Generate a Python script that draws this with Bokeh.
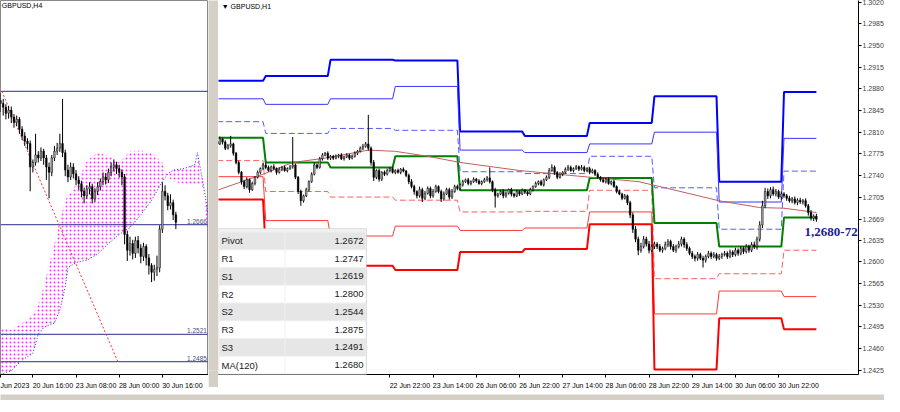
from bokeh.plotting import figure
from bokeh.models import ColumnDataSource, FixedTicker, Label, BoxAnnotation, Range1d
from bokeh.layouts import row, column
from bokeh.embed import file_html
from bokeh.resources import INLINE

# ---------------- data: left panel, GBPUSD H4 (bar index 0 = 20 Jun 16:00) ----------------
h4_first_bar = -12
h4_open0 = 1.2830
h4_close = [1.2826, 1.2821, 1.2813, 1.2817, 1.2808, 1.2801, 1.2805, 1.2792, 1.2783, 1.2776, 1.2773, 1.2742,
            1.2748, 1.2758, 1.2754, 1.2763, 1.2754, 1.2742, 1.2735, 1.2754, 1.2763, 1.2767, 1.2773, 1.2761,
            1.2738, 1.2729, 1.2742, 1.2733, 1.2725, 1.2720, 1.2710, 1.2704, 1.2713, 1.2716, 1.2700, 1.2710,
            1.2716, 1.2723, 1.2729, 1.2725, 1.2735, 1.2742, 1.2745, 1.2740, 1.2735, 1.2729, 1.2653, 1.2632,
            1.2641, 1.2628, 1.2645, 1.2635, 1.2624, 1.2637, 1.2622, 1.2612, 1.2603, 1.2607, 1.2609, 1.2660,
            1.2710, 1.2704, 1.2691, 1.2695, 1.2679, 1.2669]
h4_high = [1.2840, 1.2832, 1.2825, 1.2823, 1.2822, 1.2812, 1.2810, 1.2808, 1.2796, 1.2788, 1.2780, 1.2777,
           1.2752, 1.2786, 1.2763, 1.2768, 1.2766, 1.2758, 1.2748, 1.2758, 1.2770, 1.2774, 1.2786, 1.2832,
           1.2765, 1.2745, 1.2748, 1.2747, 1.2738, 1.2730, 1.2724, 1.2715, 1.2718, 1.2722, 1.2720, 1.2714,
           1.2722, 1.2727, 1.2735, 1.2734, 1.2740, 1.2748, 1.2752, 1.2749, 1.2745, 1.2739, 1.2733, 1.2658,
           1.2650, 1.2646, 1.2650, 1.2651, 1.2640, 1.2642, 1.2640, 1.2627, 1.2615, 1.2613, 1.2625, 1.2665,
           1.2722, 1.2718, 1.2708, 1.2706, 1.2699, 1.2683]
h4_low = [1.2815, 1.2810, 1.2805, 1.2806, 1.2800, 1.2794, 1.2796, 1.2786, 1.2778, 1.2770, 1.2765, 1.2710,
          1.2735, 1.2744, 1.2748, 1.2750, 1.2745, 1.2725, 1.2701, 1.2730, 1.2750, 1.2758, 1.2762, 1.2755,
          1.2730, 1.2722, 1.2725, 1.2727, 1.2718, 1.2712, 1.2702, 1.2694, 1.2700, 1.2706, 1.2694, 1.2696,
          1.2705, 1.2711, 1.2718, 1.2719, 1.2721, 1.2730, 1.2736, 1.2733, 1.2728, 1.2718, 1.2640, 1.2618,
          1.2625, 1.2620, 1.2622, 1.2628, 1.2615, 1.2618, 1.2612, 1.2600, 1.2590, 1.2592, 1.2598, 1.2603,
          1.2655, 1.2698, 1.2685, 1.2686, 1.2672, 1.2660]
kumo_bar = [-12, -8, -4, 0, 2, 4, 8, 10, 12, 13, 16, 20, 24, 28, 32, 36, 40, 44, 48, 50, 52, 56, 60, 61, 63, 65]
kumo_span_a = [1.2530, 1.2527, 1.2536, 1.2546, 1.2561, 1.2584, 1.2641, 1.2672, 1.2698, 1.2704, 1.2719, 1.2750,
               1.2761, 1.2757, 1.2748, 1.2763, 1.2764, 1.2761, 1.2748, 1.2729, 1.2723, 1.2720, 1.2719, 1.2719,
               1.2716, 1.2647]
kumo_span_b = [1.2468, 1.2473, 1.2487, 1.2496, 1.2521, 1.2530, 1.2536, 1.2553, 1.2584, 1.2609, 1.2616, 1.2619,
               1.2627, 1.2641, 1.2653, 1.2662, 1.2679, 1.2698, 1.2723, 1.2733, 1.2738, 1.2740, 1.2745, 1.2761,
               1.2723, 1.2679]
h4_levels = [1.2842, 1.2666, 1.2521, 1.2485]
h4_level_labels = ["", "1.2666", "1.2521", "1.2485"]
trend_bar = [-11.5, 31.5]
trend_price = [1.2842, 1.2485]
h4_ticks = [-12, 0, 16, 32, 48]
h4_tick_labels = ["Jun 2023", "20 Jun 16:00", "23 Jun 08:00", "28 Jun 00:00", "30 Jun 16:00"]

# ---------------- data: right panel, GBPUSD H1 (bar index 0 = 21 Jun 00:00) ----------------
h1_first_bar = -18
h1_open0 = 1.2795
h1_close = [
    1.2791, 1.2799, 1.2794, 1.2784, 1.2788, 1.2791, 1.2776, 1.2761, 1.2745, 1.2730, 1.2722, 1.2733, 1.2717,
    1.2727, 1.2737, 1.2745, 1.2751, 1.2757, 1.2753,
    1.2748, 1.2754, 1.2751, 1.2745, 1.2750, 1.2753, 1.2748, 1.2751, 1.2754, 1.2757, 1.2737, 1.2714,
    1.2699, 1.2707, 1.2717, 1.2730, 1.2742, 1.2757, 1.2753, 1.2767, 1.2773, 1.2776, 1.2768, 1.2771,
    1.2768, 1.2771, 1.2773, 1.2767, 1.2770, 1.2773, 1.2768, 1.2771, 1.2776, 1.2779, 1.2784, 1.2787,
    1.2791, 1.2784, 1.2761, 1.2737, 1.2748, 1.2734, 1.2745, 1.2742, 1.2748, 1.2751, 1.2745, 1.2748,
    1.2745, 1.2750, 1.2747, 1.2740, 1.2730, 1.2722, 1.2714, 1.2707, 1.2717, 1.2703, 1.2711, 1.2719,
    1.2707, 1.2714, 1.2722, 1.2714, 1.2702, 1.2710, 1.2717, 1.2705, 1.2714, 1.2722, 1.2719, 1.2725,
    1.2730, 1.2733, 1.2727, 1.2730, 1.2734, 1.2731, 1.2727, 1.2730, 1.2733, 1.2736, 1.2730, 1.2717,
    1.2707, 1.2710, 1.2714, 1.2707, 1.2711, 1.2717, 1.2710, 1.2707, 1.2714, 1.2710, 1.2716, 1.2713,
    1.2710, 1.2717, 1.2722, 1.2727, 1.2730, 1.2725, 1.2733, 1.2737, 1.2748, 1.2753, 1.2745, 1.2737,
    1.2742, 1.2745, 1.2750, 1.2753, 1.2748, 1.2751, 1.2754, 1.2750, 1.2753, 1.2748, 1.2751, 1.2745,
    1.2748, 1.2742, 1.2737, 1.2733, 1.2730, 1.2734, 1.2727, 1.2730, 1.2722, 1.2714, 1.2710, 1.2703,
    1.2707, 1.2696, 1.2676, 1.2653, 1.2637, 1.2619, 1.2625, 1.2637, 1.2629, 1.2619, 1.2625, 1.2629,
    1.2625, 1.2619, 1.2622, 1.2628, 1.2633, 1.2625, 1.2619, 1.2625, 1.2629, 1.2637, 1.2628, 1.2622,
    1.2614, 1.2609, 1.2606, 1.2612, 1.2606, 1.2603, 1.2609, 1.2614, 1.2609, 1.2612, 1.2606, 1.2609,
    1.2612, 1.2614, 1.2609, 1.2616, 1.2612, 1.2619, 1.2614, 1.2622, 1.2617, 1.2625, 1.2619, 1.2628,
    1.2625, 1.2637, 1.2660, 1.2691, 1.2714, 1.2707, 1.2717, 1.2710, 1.2714, 1.2705, 1.2710, 1.2707,
    1.2703, 1.2699, 1.2702, 1.2696, 1.2700, 1.2697, 1.2699, 1.2691, 1.2680, 1.2671, 1.2674, 1.2669]
h1_wick_up_pips = [
    3, 4, 2, 3, 3, 13, 2, 2, 3, 2, 3, 4, 2, 3, 2, 3, 2, 3, 4,
    3, 2, 4, 2, 3, 2, 3, 2, 3, 45, 2, 2, 3, 2, 3, 2, 3, 4, 2, 3, 3, 2, 3, 2,
    2, 3, 2, 3, 2, 3, 2, 3, 3, 2, 3, 4, 3, 47, 3, 4, 2, 3, 2, 3, 3, 2, 3, 2,
    3, 2, 3, 2, 3, 4, 3, 2, 5, 3, 4, 3, 3, 4, 3, 2, 3, 4, 3, 3, 4, 3, 3, 2,
    3, 2, 3, 2, 3, 2, 3, 2, 3, 3, 17, 2, 3, 2, 3, 4, 3, 2, 3, 2, 3, 2, 3, 2,
    2, 3, 2, 3, 2, 3, 2, 3, 4, 5, 3, 2, 3, 2, 3, 4, 3, 2, 3, 2, 4, 3, 2, 3,
    3, 2, 3, 2, 3, 2, 3, 2, 3, 2, 3, 2, 3, 2, 3, 4, 5, 4, 6, 5, 4, 5, 3, 4,
    3, 4, 3, 5, 4, 3, 4, 3, 5, 4, 3, 4, 3, 4, 3, 4, 3, 4, 3, 4, 3, 4, 3, 4,
    3, 4, 3, 4, 3, 4, 3, 4, 3, 4, 3, 4, 5, 4, 6, 8, 6, 5, 4, 5, 4, 3, 4, 3,
    3, 4, 3, 4, 3, 4, 3, 4, 3, 4, 3, 4]
h1_wick_dn_pips = [
    3, 2, 4, 3, 2, 3, 4, 3, 3, 5, 4, 3, 5, 2, 3, 2, 3, 2, 3,
    2, 3, 2, 4, 2, 3, 2, 3, 2, 3, 3, 4, 8, 3, 2, 3, 2, 2, 3, 2, 3, 2, 3, 3,
    3, 2, 3, 2, 3, 2, 3, 2, 2, 3, 2, 3, 2, 4, 5, 6, 3, 4, 3, 3, 2, 3, 2, 3,
    2, 3, 2, 3, 4, 3, 5, 4, 3, 6, 3, 2, 4, 3, 2, 3, 5, 3, 2, 4, 3, 2, 3, 3,
    3, 2, 3, 3, 2, 3, 2, 3, 2, 3, 3, 4, 19, 3, 2, 4, 3, 2, 4, 3, 2, 3, 2, 3,
    3, 2, 3, 2, 3, 2, 3, 2, 3, 2, 4, 3, 2, 3, 2, 3, 2, 3, 2, 3, 2, 3, 2, 3,
    2, 3, 2, 3, 2, 3, 2, 3, 2, 3, 2, 3, 2, 4, 5, 6, 5, 8, 4, 3, 4, 5, 3, 4,
    4, 3, 4, 3, 4, 5, 3, 4, 3, 4, 5, 4, 3, 4, 5, 4, 3, 12, 4, 3, 4, 3, 4, 3,
    4, 3, 4, 3, 4, 3, 4, 3, 4, 3, 4, 3, 4, 5, 4, 5, 4, 5, 4, 3, 4, 3, 4, 3,
    4, 3, 4, 3, 4, 3, 4, 3, 5, 4, 5, 4]
day_start = [-18, 0, 24, 48, 72, 96, 120, 144, 168, 192]
last_bar = 204
pivot_r3 = [1.2893, 1.2901, 1.2927, 1.2926, 1.2811, 1.2804, 1.2825, 1.2868, 1.2730, 1.2875]
pivot_r2 = [1.2864, 1.2855, 1.2864, 1.2884, 1.2781, 1.2777, 1.2791, 1.2810, 1.2697, 1.2800]
pivot_r1 = [1.2827, 1.2808, 1.2816, 1.2813, 1.2746, 1.2743, 1.2771, 1.2720, 1.2653, 1.2747]
pivot_p = [1.2801, 1.2761, 1.2753, 1.2771, 1.2716, 1.2716, 1.2736, 1.2663, 1.2625, 1.2672]
pivot_s1 = [1.2764, 1.2714, 1.2705, 1.2700, 1.2681, 1.2682, 1.2716, 1.2573, 1.2581, 1.2619]
pivot_s2 = [1.2738, 1.2667, 1.2642, 1.2658, 1.2651, 1.2655, 1.2681, 1.2516, 1.2553, 1.2544]
pivot_s3 = [1.2701, 1.2620, 1.2594, 1.2587, 1.2616, 1.2621, 1.2661, 1.2426, 1.2509, 1.2491]
ma_bar = [-18, -1, 10, 22, 38, 48, 60, 72, 94, 113, 138, 146, 168, 183, 192, 204]
ma_val = [1.2716, 1.2742, 1.2761, 1.2768, 1.2781, 1.2779, 1.2771, 1.2761, 1.2748, 1.2740, 1.2730, 1.2722,
          1.2699, 1.2688, 1.2687, 1.2680]
h1_ticks = [46, 62, 78, 94, 110, 126, 142, 158, 174, 190]
h1_tick_labels = ["22 Jun 22:00", "23 Jun 14:00", "26 Jun 06:00", "26 Jun 22:00", "27 Jun 14:00",
                  "28 Jun 06:00", "28 Jun 22:00", "29 Jun 14:00", "30 Jun 06:00", "30 Jun 22:00"]
price_ticks = [1.2425, 1.2460, 1.2495, 1.2530, 1.2565, 1.2600, 1.2635, 1.2705, 1.2740, 1.2775, 1.2810,
               1.2845, 1.2880, 1.2915, 1.2950, 1.2985, 1.3020]
last_price = 1.2669
note_text = "1,2680-72"
table_names = ["Pivot", "R1", "S1", "R2", "S2", "R3", "S3", "MA(120)"]
table_values = ["1.2672", "1.2747", "1.2619", "1.2800", "1.2544", "1.2875", "1.2491", "1.2680"]

# ---------------- styling constants ----------------
FONT = "Liberation Sans"
GRAY = "#d4d0c8"
FH = 374          # frame height
BB = 13           # bottom border for the time axis
LW, SW, RFW, RB = 208, 10, 640, 26


def candles(p, first, open0, close, high, low, width):
    opens = [open0] + close[:-1]
    x = list(range(first, first + len(close)))
    src = ColumnDataSource(dict(
        x=x, h=high, l=low,
        top=[max(o, c) for o, c in zip(opens, close)],
        bot=[min(o, c) for o, c in zip(opens, close)],
        fill=["#b4b4b4" if c >= o else "#000000" for o, c in zip(opens, close)],
    ))
    p.segment("x", "h", "x", "l", source=src, line_color="#000000", line_width=1)
    p.vbar(x="x", top="top", bottom="bot", width=width, fill_color="fill",
           line_color="#000000", line_width=0.5, source=src)


def style_xaxis(ax, ticks, labels, px_per_bar):
    # labels start at their tick (MetaTrader style): the tick mark is a minor tick,
    # the label sits at a major tick shifted by half of its width
    centers = [round(t + (1.5 * len(s) + 2) / px_per_bar, 3) for t, s in zip(ticks, labels)]
    ax.ticker = FixedTicker(ticks=centers, minor_ticks=ticks)
    ax.major_label_overrides = {c: s for c, s in zip(centers, labels)}
    ax.major_label_text_font = FONT
    ax.major_label_text_font_size = "7px"
    ax.major_label_text_color = "#000000"
    ax.major_label_standoff = 1
    ax.major_tick_line_color = None
    ax.minor_tick_line_color = "#000000"
    ax.minor_tick_out = 3
    ax.minor_tick_in = 0
    ax.axis_line_color = "#000000"


# ================= left panel =================
l_xr = (-12, 65.1)
pl = figure(frame_width=LW, frame_height=FH, min_border_left=0, min_border_right=0,
            min_border_top=0, min_border_bottom=BB,
            x_range=Range1d(*l_xr), y_range=Range1d(1.2468, 1.2962),
            y_axis_location=None, toolbar_location=None, output_backend="svg")
pl.grid.visible = False
pl.outline_line_color = "#8a8a8a"
pl.background_fill_color = "#ffffff"
pl.border_fill_color = "#ffffff"
style_xaxis(pl.xaxis[0], h4_ticks, h4_tick_labels, LW / (l_xr[1] - l_xr[0]))

pl.varea(x=kumo_bar, y1=kumo_span_a, y2=kumo_span_b, fill_alpha=0,
         hatch_pattern=".", hatch_color="#ff00ff", hatch_scale=4, hatch_weight=0.45, hatch_alpha=0.8)
pl.line(kumo_bar, kumo_span_b, line_color="#2a2aff", line_width=1, line_dash="1 2")
for lv, lab in zip(h4_levels, h4_level_labels):
    pl.line(list(l_xr), [lv, lv], line_color="#5656a6", line_width=1.2)
    if lab:
        pl.add_layout(Label(x=l_xr[1] - 0.6, y=lv, text=lab, text_align="right", text_baseline="bottom",
                            y_offset=1, text_font=FONT, text_font_size="6.5px", text_color="#50507a"))
pl.line(trend_bar, trend_price, line_color="#ff3030", line_width=1, line_dash="2 2")
candles(pl, h4_first_bar, h4_open0, h4_close, h4_high, h4_low, 0.6)
pl.add_layout(Label(x=-11.5, y=1.2955, text="GBPUSD,H4", text_baseline="middle",
                    text_font=FONT, text_font_size="7px", text_color="#000000"))

# ================= splitter =================
sp = figure(width=SW, height=FH + BB, min_border=0, x_axis_location=None, y_axis_location=None,
            toolbar_location=None, output_backend="svg", x_range=Range1d(0, 1), y_range=Range1d(0, 1))
sp.grid.visible = False
sp.outline_line_color = None
sp.background_fill_color = GRAY
sp.border_fill_color = GRAY

# ================= right panel =================
r_xr = (-17.5, 219.6)
pr = figure(frame_width=RFW, frame_height=FH, min_border_left=0, min_border_right=RB,
            min_border_top=0, min_border_bottom=BB,
            x_range=Range1d(*r_xr), y_range=Range1d(1.2418, 1.3023),
            y_axis_location="right", toolbar_location=None, output_backend="svg")
pr.grid.visible = False
pr.outline_line_color = None
pr.background_fill_color = "#ffffff"
pr.border_fill_color = "#ffffff"
style_xaxis(pr.xaxis[0], h1_ticks, h1_tick_labels, RFW / (r_xr[1] - r_xr[0]))
ya = pr.yaxis[0]
all_price_ticks = price_ticks + [last_price]
ya.ticker = FixedTicker(ticks=all_price_ticks)
ya.major_label_overrides = {t: f"{t:.4f}" for t in all_price_ticks}
ya.major_label_text_font = FONT
ya.major_label_text_font_size = "7px"
ya.major_label_standoff = 1
ya.major_tick_out = 3
ya.major_tick_in = 0
ya.minor_tick_line_color = None
ya.axis_line_color = "#000000"


def step_xy(vals):
    xs, ys = [], []
    for d, v in enumerate(vals):
        x0 = day_start[d]
        x1 = day_start[d + 1] - 1 if d + 1 < len(day_start) else last_bar
        xs += [x0, x1]
        ys += [v, v]
    return xs, ys


level_styles = [
    (pivot_r3, "#0000ff", 2, "solid"),
    (pivot_r2, "#3636ff", 1, "solid"),
    (pivot_r1, "#5a5aff", 1, "6 3"),
    (pivot_s1, "#ff6060", 1, "6 3"),
    (pivot_s2, "#ff3a3a", 1, "solid"),
    (pivot_s3, "#ff0000", 2, "solid"),
    (pivot_p, "#008000", 2, "solid"),
]
for vals, col, w, dash in level_styles:
    xs, ys = step_xy(vals)
    pr.line(xs, ys, line_color=col, line_width=w, line_dash=dash)

pr.line(ma_bar, ma_val, line_color="#c0605a", line_width=1)

h1_open = [h1_open0] + h1_close[:-1]
h1_high = [max(o, c) + u * 0.0001 for o, c, u in zip(h1_open, h1_close, h1_wick_up_pips)]
h1_low = [min(o, c) - d * 0.0001 for o, c, d in zip(h1_open, h1_close, h1_wick_dn_pips)]
candles(pr, h1_first_bar, h1_open0, h1_close, h1_high, h1_low, 0.6)

pr.add_layout(Label(x=-16.3, y=1.3014, text="\u25bc GBPUSD,H1", text_baseline="middle",
                    text_font=FONT, text_font_size="7px", text_color="#000000"))
pr.add_layout(Label(x=r_xr[1] - 0.3, y=1.2649, text=note_text, text_align="right", text_baseline="middle",
                    text_font="Liberation Serif", text_font_style="bold", text_font_size="13px",
                    text_color="#1c1c8c"))


def sbox(left, right, top, bottom, **kw):
    return BoxAnnotation(left=left, right=right, top=top, bottom=bottom, left_units="screen",
                         right_units="screen", top_units="screen", bottom_units="screen",
                         fill_alpha=1, **kw)


# data window table (screen units, measured from the frame's bottom-left corner)
T_TOP, ROW0, RH = 146, 142, 17.75
TR, TSPLIT, TVAL = 148, 67, 145
pr.add_layout(sbox(0, TR, T_TOP, -2, fill_color="#f0f0f0", line_color="#a8a8a8"))
for k, (nm, val) in enumerate(zip(table_names, table_values)):
    top = ROW0 - k * RH
    bot = top - RH + 1
    bg = "#e6e6e6" if k % 2 == 0 else "#ffffff"
    pr.add_layout(sbox(1, TSPLIT - 1, top, bot, fill_color=bg, line_color=None))
    pr.add_layout(sbox(TSPLIT, TR - 1, top, bot, fill_color=bg, line_color=None))
    cy = top - RH / 2 + 0.5
    pr.add_layout(Label(x=3, y=cy, x_units="screen", y_units="screen", text=nm,
                        text_baseline="middle", text_font=FONT, text_font_size="9.5px",
                        text_color="#1a1a1a"))
    pr.add_layout(Label(x=TVAL, y=cy, x_units="screen", y_units="screen", text=val,
                        text_align="right", text_baseline="middle", text_font=FONT,
                        text_font_size="9.5px", text_color="#1a1a1a"))

# ================= bottom gray bar =================
bar = figure(width=LW + SW + RFW + RB, height=9, min_border=0, x_axis_location=None, y_axis_location=None,
             toolbar_location=None, output_backend="svg", x_range=Range1d(0, 1), y_range=Range1d(0, 1))
bar.grid.visible = False
bar.outline_line_color = None
bar.background_fill_color = GRAY
bar.border_fill_color = GRAY

layout = column(row(pl, sp, pr, spacing=0), bar, spacing=0)
open("out.html", "w").write(file_html(layout, INLINE))
